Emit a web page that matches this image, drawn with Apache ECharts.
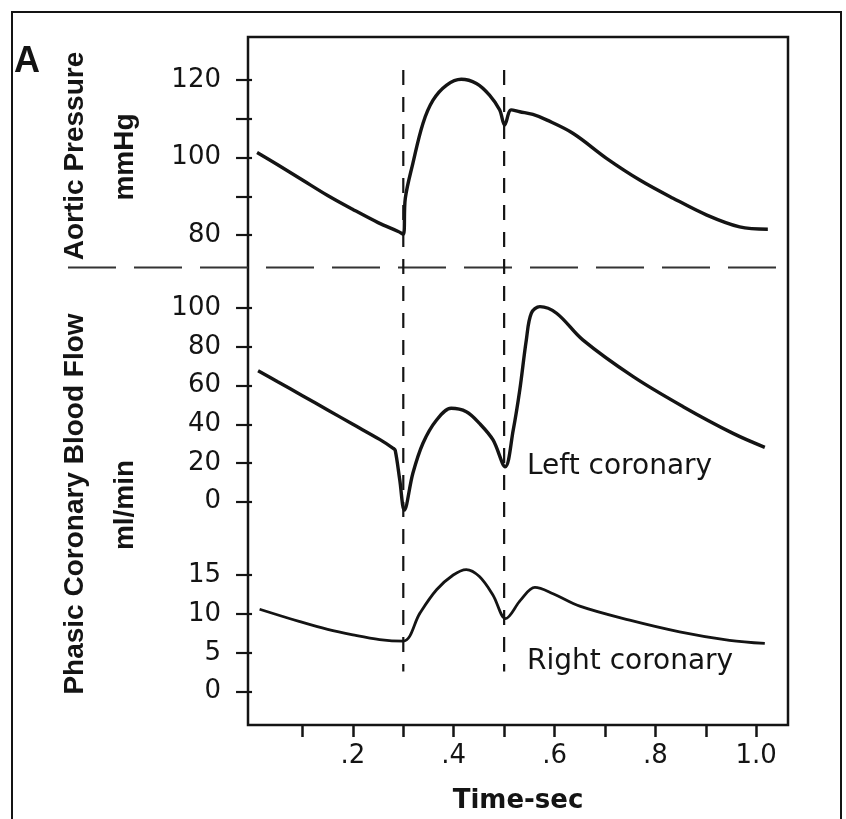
<!DOCTYPE html>
<html><head><meta charset="utf-8">
<script src="https://cdn.jsdelivr.net/npm/echarts@6/dist/echarts.min.js"></script>
<style>html,body{margin:0;padding:0;background:#fff}#c{width:846px;height:819px}</style>
</head><body><div id="c"></div>
<script>
// ---- data ----
const timeAortic = [0.01,0.05,0.1,0.15,0.2,0.25,0.29,0.3,0.304,0.319,0.339,0.359,0.386,0.415,0.445,0.471,0.491,0.501,0.514,0.531,0.557,0.584,0.637,0.703,0.769,0.835,0.901,0.967,1.023];
const aorticPressure = [101.3,98.2,94.2,90.2,86.6,83.2,80.9,80.2,89.5,98.5,108.8,114.8,118.7,120.2,119.1,116.1,112.3,108.4,112.3,111.8,111.1,109.7,106.2,99.8,94.2,89.5,85.2,82.1,81.5];

const timeLeft = [0.012,0.05,0.1,0.15,0.2,0.253,0.28,0.284,0.293,0.302,0.319,0.339,0.366,0.395,0.425,0.451,0.478,0.502,0.518,0.531,0.544,0.554,0.571,0.604,0.656,0.756,0.855,0.954,1.017];
const leftCoronaryFlow = [67.7,62.1,54.8,47.4,40.0,32.2,27.6,26.5,11.2,-4.3,14.7,30.2,42.2,48.3,46.5,40.5,31.9,18.1,37,57.7,83.6,97.4,100.8,97.4,83.6,64.6,49.1,35.3,28.1];

const timeRight = [0.015,0.095,0.15,0.2,0.253,0.3,0.333,0.366,0.399,0.425,0.451,0.478,0.503,0.533,0.561,0.597,0.65,0.749,0.848,0.947,1.017];
const rightCoronaryFlow = [10.6,9.0,8.0,7.3,6.7,6.5,10.1,13.1,15.0,15.7,14.8,12.4,9.4,11.8,13.4,12.6,11.0,9.2,7.7,6.6,6.2];

const xTickValues = [0.1,0.2,0.3,0.4,0.5,0.6,0.7,0.8,0.9,1.0];
const xLabelValues = [0.2,0.4,0.6,0.8,1.0];
const xLabelTexts = ['.2','.4','.6','.8','1.0'];
const aorticTicks = [80,90,100,110,120];
const aorticLabels = [80,100,120];
const leftTicks = [0,20,40,60,80,100];
const rightTicks = [0,5,10,15];

const eventTimes = [0.3, 0.5];          // dashed verticals
const eventTopValue = 122.6;            // on aortic axis
const eventBottomValue = 2.6;           // on right coronary axis
const separatorValue = 71.6;            // horizontal dashed line on aortic axis

// ---- chart ----
const INK = '#141414';
const labelFont = {fontFamily: 'DejaVu Sans', fontSize: 26, color: INK};
const X_MIN = -0.008, X_MAX = 1.063;
const L = 248, W = 540;

function hiddenX(gi) {
  return {gridIndex: gi, type: 'value', min: X_MIN, max: X_MAX, show: false};
}
function yAx(gi, min, max, ticks, labels) {
  return {
    gridIndex: gi, type: 'value', min: min, max: max,
    splitLine: {show: false},
    axisLine: {show: false},
    axisTick: {show: true, inside: false, length: 16, customValues: ticks, lineStyle: {color: INK, width: 2.2}},
    axisLabel: Object.assign({margin: 27, customValues: labels}, labelFont)
  };
}
function lineSeries(name, gi, xs, ys, w) {
  return {
    name: name, type: 'line', xAxisIndex: gi, yAxisIndex: gi,
    data: xs.map((t, i) => [t, ys[i]]),
    showSymbol: false, smooth: 0.35,
    lineStyle: {color: INK, width: w}
  };
}

const chart = echarts.init(document.getElementById('c'), null, {renderer: 'canvas'});
chart.setOption({
  animation: false,
  backgroundColor: '#fff',
  grid: [
    {left: L, width: W, top: 37, height: 691, show: true, borderColor: INK, borderWidth: 2.5, backgroundColor: 'transparent'},
    {left: L, width: W, top: 41.25, height: 232.5},
    {left: L, width: W, top: 269.5, height: 270.9},
    {left: L, width: W, top: 536.1, height: 194.5}
  ],
  xAxis: [
    {
      gridIndex: 0, type: 'value', min: X_MIN, max: X_MAX, position: 'bottom',
      splitLine: {show: false}, axisLine: {show: false},
      axisTick: {show: true, inside: false, length: 12, customValues: xTickValues, lineStyle: {color: INK, width: 2.5}},
      axisLabel: Object.assign({
        margin: 18, customValues: xLabelValues,
        formatter: v => { const i = xLabelValues.findIndex(u => Math.abs(u - v) < 1e-6); return i >= 0 ? xLabelTexts[i] : ''; }
      }, labelFont),
      name: 'Time-sec', nameLocation: 'middle', nameGap: 63,
      nameTextStyle: {fontFamily: 'DejaVu Sans', fontWeight: 'bold', fontSize: 26, color: INK}
    },
    hiddenX(1), hiddenX(2), hiddenX(3)
  ],
  yAxis: [
    {gridIndex: 0, type: 'value', min: 0, max: 1, show: false},
    yAx(1, 70, 130, aorticTicks, aorticLabels),
    yAx(2, -20, 120, leftTicks, leftTicks),
    yAx(3, -5, 20, rightTicks, rightTicks)
  ],
  series: [
    lineSeries('Aortic Pressure', 1, timeAortic, aorticPressure, 3.4),
    lineSeries('Left coronary', 2, timeLeft, leftCoronaryFlow, 3.4),
    lineSeries('Right coronary', 3, timeRight, rightCoronaryFlow, 2.8)
  ]
});

// decorations positioned from the axes
const titleStyle = {fontFamily: 'Liberation Sans', fontWeight: 'bold', fontSize: 28, fill: INK, textAlign: 'center', textVerticalAlign: 'middle'};
const els = [
  {type: 'rect', shape: {x: 12, y: 12, width: 829, height: 830}, style: {fill: 'none', stroke: INK, lineWidth: 2}, silent: true},
  {type: 'text', left: 14, top: 44, style: {text: 'A', fontFamily: 'Liberation Sans', fontWeight: 'bold', fontSize: 36, fill: INK}},
  {type: 'text', x: 75, y: 156, rotation: Math.PI / 2, style: Object.assign({text: 'Aortic Pressure'}, titleStyle)},
  {type: 'text', x: 125, y: 157, rotation: Math.PI / 2, style: Object.assign({text: 'mmHg'}, titleStyle)},
  {type: 'text', x: 75, y: 504, rotation: Math.PI / 2, style: Object.assign({text: 'Phasic Coronary Blood Flow'}, titleStyle)},
  {type: 'text', x: 125, y: 505, rotation: Math.PI / 2, style: Object.assign({text: 'ml/min'}, titleStyle)},
  {type: 'text', x: 527, y: 467, style: {text: 'Left coronary', fontFamily: 'DejaVu Sans', fontSize: 28, fill: INK, textVerticalAlign: 'middle'}},
  {type: 'text', x: 527, y: 662, style: {text: 'Right coronary', fontFamily: 'DejaVu Sans', fontSize: 28, fill: INK, textVerticalAlign: 'middle'}}
];
const sepY = chart.convertToPixel({yAxisIndex: 1}, separatorValue);
const rightX = chart.convertToPixel({xAxisIndex: 0}, X_MAX);
els.push({type: 'line', shape: {x1: 68, y1: sepY, x2: rightX, y2: sepY}, style: {stroke: '#333', lineWidth: 2, lineDash: [48, 18]}, silent: true});
eventTimes.forEach(t => {
  const p1 = chart.convertToPixel({gridIndex: 1}, [t, eventTopValue]);
  const p2 = chart.convertToPixel({gridIndex: 3}, [t, eventBottomValue]);
  els.push({type: 'line', shape: {x1: p1[0], y1: p1[1], x2: p2[0], y2: p2[1]}, style: {stroke: INK, lineWidth: 2.2, lineDash: [15, 12]}, silent: true});
});
chart.setOption({graphic: {elements: els}});
</script>
</body></html>
